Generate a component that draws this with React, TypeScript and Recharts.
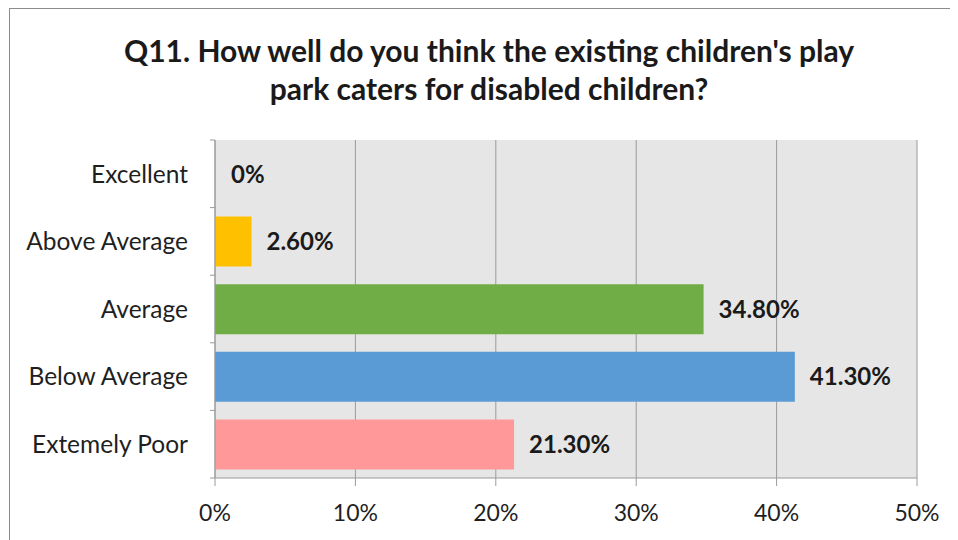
import React from "react";
import { BarChart, Bar, XAxis, YAxis, CartesianGrid, Cell, LabelList } from "recharts";

const categories = ["Excellent", "Above Average", "Average", "Below Average", "Extemely Poor"];
const percentages = [0, 2.6, 34.8, 41.3, 21.3];
const barColors = ["#A5A5A5", "#FFC000", "#70AD47", "#5B9BD5", "#FF9999"];
const xTicks = [0, 10, 20, 30, 40, 50];
const titleLines = [
  "Q11. How well do you think the existing children's play",
  "park caters for disabled children?",
];

const data = categories.map((name, i) => ({ name, value: percentages[i], color: barColors[i] }));

const FONT = "Lato, 'Open Sans', sans-serif";
const CHART_W = 948;
const CHART_H = 531;
const MARGIN = { top: 131, right: 41, bottom: 22, left: 5 };
const Y_AXIS_W = 200;
const X_AXIS_H = 40;
const PLOT_H = CHART_H - MARGIN.top - MARGIN.bottom - X_AXIS_H;
const BAND = PLOT_H / categories.length;
const TICK_SIZE = 5;
const TICK_MARGIN = 22;
const AXIS_GRAY = "#9a9a9a";

const CatTick = (props: any) => {
  const { x, y, payload, index } = props;
  const ax = x + TICK_MARGIN;
  return (
    <g>
      <text
        x={x}
        y={y}
        dy="0.36em"
        textAnchor="end"
        fontFamily={FONT}
        fontSize={24.5}
        fill="#1f1f1f"
      >
        {payload.value}
      </text>
      {index === 0 && (
        <line x1={ax} x2={ax + TICK_SIZE} y1={y - BAND / 2} y2={y - BAND / 2} stroke={AXIS_GRAY} />
      )}
      <line x1={ax} x2={ax + TICK_SIZE} y1={y + BAND / 2} y2={y + BAND / 2} stroke={AXIS_GRAY} />
    </g>
  );
};

export default function App() {
  return (
    <div
      style={{
        position: "relative",
        width: 960,
        height: 560,
        border: "1px solid #8c8c8c",
        marginLeft: 1,
        boxSizing: "border-box",
        background: "#fff",
      }}
    >
      <div
        style={{
          position: "absolute",
          left: 0,
          top: 22,
          width: 958,
          textAlign: "center",
          fontFamily: FONT,
          fontWeight: 700,
          fontSize: 30,
          lineHeight: "38px",
          color: "#1a1a1a",
        }}
      >
        {titleLines[0]}
        <br />
        {titleLines[1]}
      </div>
      <BarChart
        width={CHART_W}
        height={CHART_H}
        data={data}
        layout="vertical"
        margin={MARGIN}
        barSize={50}
      >
        <CartesianGrid horizontal={false} fill="#E6E6E6" stroke={AXIS_GRAY} strokeWidth={1} />
        <XAxis
          type="number"
          domain={[0, 50]}
          ticks={xTicks}
          tickFormatter={(v: number) => `${v}%`}
          stroke={AXIS_GRAY}
          tickSize={8}
          tickMargin={19}
          height={X_AXIS_H}
          tick={{ fontFamily: FONT, fontSize: 23, fill: "#1f1f1f" }}
          interval={0}
        />
        <YAxis
          type="category"
          dataKey="name"
          width={Y_AXIS_W}
          stroke={AXIS_GRAY}
          tickLine={false}
          tickSize={TICK_SIZE}
          tickMargin={TICK_MARGIN}
          tick={<CatTick />}
          interval={0}
        />
        <Bar
          dataKey="value"
          isAnimationActive={false}
          minPointSize={(v: number) => (v === 0 ? 1 : 0)}
        >
          {data.map((d, i) => (
            <Cell key={i} fill={d.value === 0 ? "none" : d.color} />
          ))}
          <LabelList
            dataKey="value"
            position="right"
            offset={15}
            formatter={(v: number) => (v === 0 ? "0%" : `${v.toFixed(2)}%`)}
            style={{ fontFamily: FONT, fontWeight: 700, fontSize: 24, fill: "#1a1a1a" }}
          />
        </Bar>
      </BarChart>
    </div>
  );
}
